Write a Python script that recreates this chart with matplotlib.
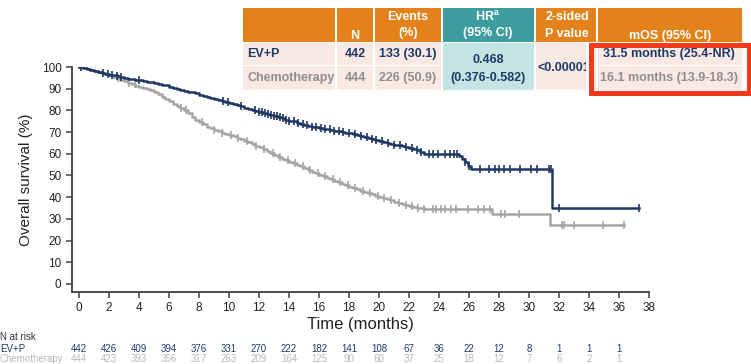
import numpy as np
import matplotlib
matplotlib.use("Agg")
import matplotlib.pyplot as plt
from matplotlib.patches import Rectangle

plt.rcParams['font.family'] = ['Liberation Sans', 'DejaVu Sans']
NARROW = ['Liberation Sans Narrow', 'Liberation Sans', 'DejaVu Sans']

NAVY = '#1f3864'
GREY = '#a2a7a5'
NAVY_TXT = '#1f3a68'
GREY_TXT = '#8e8e8e'

# Kaplan-Meier steps (months, % surviving)
ev_t = [0, 0.25, 0.5, 0.75, 1, 1.25, 1.5, 1.75, 2, 2.25, 2.5, 2.75, 3, 3.25, 3.5, 3.75,
        4, 4.25, 4.5, 4.75, 5, 5.25, 5.5, 5.75, 6, 6.25, 6.5, 6.75, 7, 7.25, 7.5, 7.75,
        8, 8.25, 8.5, 8.75, 9, 9.25, 9.5, 9.75, 10, 10.25, 10.5, 10.75, 11, 11.25, 11.5, 11.75,
        12, 12.25, 12.5, 12.75, 13, 13.25, 13.5, 13.75, 14, 14.25, 14.5, 14.75, 15, 15.25, 15.5, 15.75,
        16, 16.25, 16.5, 16.75, 17, 17.25, 17.5, 17.75, 18, 18.25, 18.5, 18.75, 19, 19.25, 19.5, 19.75,
        20, 20.25, 20.5, 20.75, 21, 21.25, 21.5, 21.75, 22, 22.25, 22.5, 22.75, 23,
        25.3, 25.5, 25.7, 25.9, 26.1, 31.5]
ev_s = [100, 99.6, 99.2, 98.8, 98.3, 97.9, 97.4, 97, 96.5, 96.2, 95.8, 95.4, 95, 94.6, 94.3, 94.1,
        93.8, 93.5, 93.2, 92.9, 92.6, 92.3, 91.9, 91.5, 91, 90.5, 90, 89.5, 89, 88.7, 88.3, 87.8,
        87.3, 86.7, 86.1, 85.7, 85.2, 84.7, 84.2, 83.8, 83.3, 82.8, 82.3, 81.8, 81.2, 80.6, 80.1, 79.7,
        79.2, 78.8, 78.3, 77.8, 77.3, 76.9, 76.4, 75.8, 75.3, 74.9, 74.4, 73.9, 73.4, 72.9, 72.5, 72.2,
        71.8, 71.5, 71.2, 70.9, 70.6, 70.3, 70, 69.8, 69.5, 69.2, 68.8, 68.3, 67.8, 67.3, 66.8, 66.4,
        65.9, 65.4, 65, 64.6, 64.2, 63.9, 63.5, 63.2, 62.8, 62.3, 61.8, 61, 60,
        59, 57.5, 56, 54.5, 53, 35]
ev_end = 37.3

ch_t = [0, 0.25, 0.5, 0.75, 1, 1.25, 1.5, 1.75, 2, 2.25, 2.5, 2.75, 3, 3.25, 3.5, 3.75,
        4, 4.25, 4.5, 4.75, 5, 5.25, 5.5, 5.75, 6, 6.25, 6.5, 6.75, 7, 7.25, 7.5, 7.75,
        8, 8.25, 8.5, 8.75, 9, 9.25, 9.5, 9.75, 10, 10.25, 10.5, 10.75, 11, 11.25, 11.5, 11.75,
        12, 12.25, 12.5, 12.75, 13, 13.25, 13.5, 13.75, 14, 14.25, 14.5, 14.75, 15, 15.25, 15.5, 15.75,
        16, 16.25, 16.5, 16.75, 17, 17.25, 17.5, 17.75, 18, 18.25, 18.5, 18.75, 19, 19.25, 19.5, 19.75,
        20, 20.25, 20.5, 20.75, 21, 21.25, 21.5, 21.75, 22, 22.25, 22.5, 22.75, 23,
        27.5, 31.4]
ch_s = [100, 99.5, 99, 98.5, 98, 97.6, 97.2, 96.8, 96.3, 95.6, 94.8, 94.1, 93.4, 92.7, 92, 91.4,
        90.8, 90.3, 89.8, 89.2, 88.5, 87.5, 86.4, 85.4, 84.3, 83.1, 82, 81.1, 80.2, 78.6, 77, 75.7,
        74.5, 73.5, 72.5, 71.7, 71, 70.4, 69.8, 69.2, 68.6, 68, 67.5, 66.7, 66, 65.3, 64.6, 63.8,
        63, 62.3, 61.5, 60.5, 59.5, 58.6, 57.8, 57.1, 56.4, 55.7, 55, 54.2, 53.5, 52.6, 51.8, 51,
        50.2, 49.6, 49, 48.3, 47.6, 46.9, 46.2, 45.5, 44.8, 44.2, 43.6, 43, 42.5, 41.9, 41.3, 40.7,
        40.2, 39.7, 39.3, 38.6, 38, 37.4, 36.8, 36.3, 35.8, 35.5, 35.2, 34.8, 34.5,
        32.2, 27.2]
ch_end = 36.3

ev_cens = [0.1, 1.6, 1.9, 2.2, 2.5, 2.8, 4.0, 9.6, 9.9, 10.8, 11.7, 12.0, 12.2, 12.4, 12.6, 12.8,
           13.0, 13.2, 13.4, 13.6, 13.8, 14.0, 14.3, 14.6, 14.9, 15.2, 15.5, 15.8, 16.1, 16.4,
           16.7, 17.0, 17.3, 17.6, 18.0, 18.4, 18.8, 19.2, 19.5, 19.8, 20.2, 20.6, 21.0, 21.4,
           21.8, 22.2, 22.5, 22.8, 23.3, 23.6, 23.9, 24.4, 24.7, 25.0, 25.2, 25.7, 26.0, 26.7,
           27.3, 27.7, 28.0, 28.3, 28.7, 29.4, 30.1, 30.5, 31.3, 31.45, 32.0, 37.3]
ch_cens = [0.1, 2.6, 3.3, 3.7, 6.8, 7.1, 8.2, 9.0, 9.5, 10.1, 10.6, 11.2, 11.8, 12.3, 12.9, 13.4,
           13.9, 14.4, 14.9, 15.4, 15.9, 16.4, 16.9, 17.4, 17.9, 18.4, 18.9, 19.4, 19.9, 20.3,
           20.8, 21.3, 21.8, 22.2, 22.6, 23.0, 23.6, 23.8, 24.1, 24.4, 24.8, 25.1, 25.9, 26.6,
           27.0, 27.4, 28.1, 28.4, 29.3, 32.2, 32.3, 33.0, 34.9, 36.3]

risk_months = list(range(0, 37, 2))
ev_risk = [442, 426, 409, 394, 376, 331, 270, 222, 182, 141, 108, 67, 36, 22, 12, 8, 1, 1, 1]
ch_risk = [444, 423, 393, 356, 317, 263, 209, 164, 125, 90, 60, 37, 25, 18, 12, 7, 6, 2, 1]


def km_at(t_steps, s_steps, t):
    idx = np.searchsorted(t_steps, t, side='right') - 1
    return np.asarray(s_steps)[idx]


W, H = 751, 364
fig = plt.figure(figsize=(W / 100, H / 100), dpi=100)
ax = fig.add_axes([72 / W, 1 - 292 / H, (649 - 72) / W, (292 - 67) / H])

for t, s, end, col, cens, z in [(ev_t, ev_s, ev_end, NAVY, ev_cens, 3),
                                (ch_t, ch_s, ch_end, GREY, ch_cens, 2)]:
    tt = list(t) + [end]
    ss = list(s) + [s[-1]]
    ax.step(tt, ss, where='post', color=col, lw=1.8, zorder=z)
    ax.plot(cens, km_at(t, s, cens), ls='none', marker='|', ms=6, mew=1.2, color=col, zorder=z)

ax.set_xlim(-0.47, 38)
ax.set_ylim(-3.7, 100)
ax.set_xticks(range(0, 39, 2))
ax.set_yticks(range(0, 101, 10))
for sp in ['top', 'right']:
    ax.spines[sp].set_visible(False)
for sp in ['left', 'bottom']:
    ax.spines[sp].set_color('#404040')
    ax.spines[sp].set_linewidth(1.3)
ax.spines['left'].set_bounds(-3.7, 100)
ax.tick_params(axis='both', colors='#404040', labelsize=8.5, length=4, width=1.1,
               labelcolor='#222222')
ax.set_xlabel('Time (months)', fontsize=12, color='#222222', labelpad=2)
ax.set_ylabel('Overall survival (%)', fontsize=11, color='#222222', labelpad=6)

# overlay in pixel coordinates for the table and the numbers at risk
ov = fig.add_axes([0, 0, 1, 1], zorder=5)
ov.set_xlim(0, W)
ov.set_ylim(H, 0)
ov.axis('off')
ov.patch.set_alpha(0)

cols = [242, 336, 374, 442, 535, 597, 743]
rows = [7, 42.5, 65.5, 91]
ORANGE = '#e3821a'
TEAL = '#3d9c9d'
LTEAL = '#c4e4e3'
PINK = '#f9e9e5'
gap = 0.8


def cell(x0, x1, y0, y1, fc):
    ov.add_patch(Rectangle((x0 + gap, y0 + gap), x1 - x0 - 2 * gap, y1 - y0 - 2 * gap,
                           fc=fc, ec='none'))


for i in range(6):
    cell(cols[i], cols[i + 1], rows[0], rows[1], TEAL if i == 3 else ORANGE)
for i in range(6):
    if i in (3, 4):
        cell(cols[i], cols[i + 1], rows[1], rows[3], LTEAL if i == 3 else PINK)
    else:
        cell(cols[i], cols[i + 1], rows[1], rows[2], PINK)
        cell(cols[i], cols[i + 1], rows[2], rows[3], PINK)

hk = dict(color='white', fontsize=9, fontweight='bold', ha='center', va='center')
ov.text(355, 36, 'N', **hk)
ov.text(408, 17, 'Events', **hk)
ov.text(408, 33, '(%)', **hk)
ov.text(488, 17, 'HR$^{\\mathregular{a}}$', **hk)
ov.text(488, 33, '(95% CI)', **hk)
ov.text(567, 17, '2-sided', **hk)
ov.text(567, 34, 'P value', **hk)
ov.text(670, 36, 'mOS (95% CI)', **hk)

dk = dict(fontsize=9, fontweight='bold', va='center')
ov.text(247, 54, 'EV+P', color=NAVY_TXT, ha='left', **dk)
ov.text(247, 78, 'Chemotherapy', color=GREY_TXT, ha='left', **dk)
ov.text(355, 54, '442', color=NAVY_TXT, ha='center', **dk)
ov.text(355, 78, '444', color=GREY_TXT, ha='center', **dk)
ov.text(408, 54, '133 (30.1)', color=NAVY_TXT, ha='center', **dk)
ov.text(408, 78, '226 (50.9)', color=GREY_TXT, ha='center', **dk)
ov.text(488, 60, '0.468', color=NAVY_TXT, ha='center', **dk)
ov.text(488, 78, '(0.376-0.582)', color=NAVY_TXT, ha='center', **dk)
ov.text(538, 68, '<0.00001', color=NAVY_TXT, ha='left', **dk)
ov.text(669, 54, '31.5 months (25.4-NR)', color=NAVY_TXT, ha='center', **dk)
ov.text(669, 78, '16.1 months (13.9-18.3)', color=GREY_TXT, ha='center', **dk)

ov.add_patch(Rectangle((590.5, 44.5), 158, 48, fc='none', ec='#f23a1a', lw=3.6, zorder=10))
ov.add_patch(Rectangle((586, 42), 3, 52, fc='white', ec='none', zorder=9))

# numbers at risk
rk = dict(fontsize=7, family=NARROW, va='center')
ov.text(0, 337.5, 'N at risk', color='#333333', ha='left', **rk)
ov.text(0, 348.5, 'EV+P', color=NAVY_TXT, ha='left', **rk)
ov.text(0, 358.5, 'Chemotherapy', color='#b8b8b8', ha='left', **rk)
for m, a, b in zip(risk_months, ev_risk, ch_risk):
    xp = 79 + 15 * m
    ov.text(xp, 348.5, str(a), color=NAVY_TXT, ha='center', **rk)
    ov.text(xp, 358.5, str(b), color='#b8b8b8', ha='center', **rk)

fig.savefig('out.png', dpi=100)
